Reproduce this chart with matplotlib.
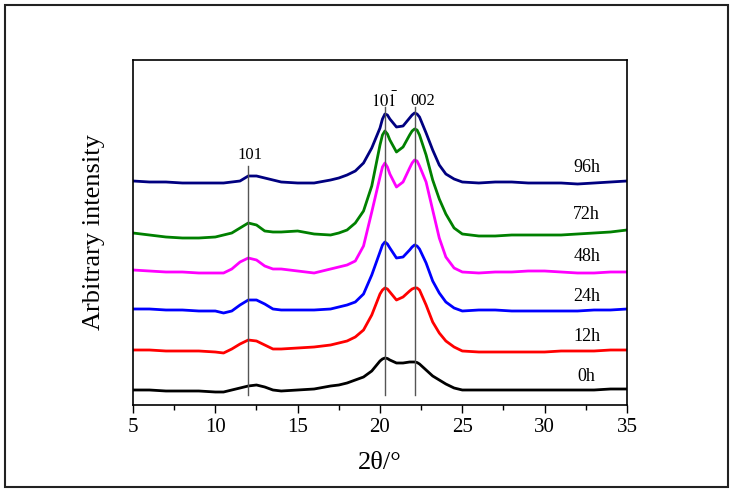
import matplotlib.pyplot as plt
from matplotlib.patches import Rectangle

plt.rcParams['font.family'] = ['Liberation Serif', 'DejaVu Serif']
plt.rcParams['mathtext.fontset'] = 'stix'

# 2theta positions (degrees) where the curves were read
two_theta = [5, 6, 7, 8, 9, 10, 10.5, 11, 11.5, 12, 12.5, 13, 13.5, 14, 15, 16, 17,
             17.5, 18, 18.5, 19, 19.5, 20, 20.15, 20.3, 20.45, 20.6, 21, 21.4, 21.8,
             21.95, 22.1, 22.25, 22.4, 22.8, 23.2, 23.6, 24, 24.5, 25, 26, 27, 28,
             29, 30, 31, 32, 33, 34, 35]

# stacked intensities (arbitrary units, offsets included)
i_0h = [26, 26, 25, 25, 25, 24, 24, 26, 28, 30, 31, 29, 26, 25, 26, 27, 30,
        31, 33, 36, 39, 45, 55, 57, 58, 57.5, 56, 53, 53, 54,
        54, 54, 53.5, 52, 46, 40, 36, 32, 28, 26, 26, 26, 26,
        26, 26, 26, 26, 26, 27, 27]
i_12h = [66, 66, 65, 65, 65, 64, 63, 67, 72, 76, 75, 71, 67, 67, 68, 69, 71,
         73, 75, 79, 86, 101, 122, 126, 128, 127, 124, 116, 119, 125,
         127, 128, 128, 126, 111, 94, 83, 75, 69, 65, 64, 64, 64,
         64, 64, 65, 65, 65, 66, 66]
i_24h = [107, 107, 106, 106, 105, 105, 103, 105, 111, 116, 116, 112, 107, 106, 106, 106, 107,
         109, 111, 114, 122, 141, 164, 171, 174, 172, 168, 158, 159, 166,
         169, 171, 170, 167, 153, 135, 123, 114, 108, 105, 106, 106, 105,
         105, 105, 105, 105, 106, 106, 107]
i_48h = [146, 145, 144, 144, 143, 143, 143, 147, 154, 158, 156, 150, 147, 147, 145, 143, 147,
         149, 151, 155, 170, 204, 239, 249, 253, 249, 242, 229, 234, 248,
         253, 256, 255, 250, 234, 206, 178, 159, 148, 144, 143, 144, 144,
         145, 145, 144, 143, 143, 144, 144]
i_72h = [183, 181, 179, 178, 178, 179, 181, 183, 188, 193, 191, 185, 184, 184, 185, 182, 181,
         183, 186, 193, 205, 230, 271, 281, 285, 282, 276, 264, 269, 281,
         285, 287, 286, 281, 261, 236, 217, 202, 188, 182, 180, 180, 181,
         181, 181, 181, 182, 183, 184, 186]
i_96h = [235, 234, 234, 233, 233, 233, 233, 234, 235, 240, 240, 238, 236, 234, 233, 233, 236,
         238, 241, 245, 253, 268, 288, 297, 302, 301, 297, 289, 290, 298,
         301, 303, 302, 299, 283, 266, 251, 242, 237, 234, 233, 234, 234,
         233, 233, 233, 232, 233, 234, 235]

series = [i_0h, i_12h, i_24h, i_48h, i_72h, i_96h]
names = ['0h', '12h', '24h', '48h', '72h', '96h']
colors = ['black', 'red', 'blue', 'magenta', 'green', 'navy']
name_y = [39, 79, 119, 159, 201, 248]

# reflection markers: position, top of line, label
peak_pos = [12.0, 20.3, 22.1]
peak_top = [250, 309, 309]
peak_text = ['101', r'$\mathrm{10\bar{1}}$', '002']
peak_text_x = [12.1, 20.3, 22.6]
peak_text_y = [261, 315, 315]

fig = plt.figure(figsize=(7.34, 4.93), dpi=100)
ax = fig.add_axes([0.1812, 0.1785, 0.673, 0.6998])

for y, c, n, ny in zip(series, colors, names, name_y):
    ax.plot(two_theta, y, color=c, lw=2)
    ax.text(32.55, ny, n, ha='center', va='center', fontsize=13)

for p, top, t, tx, ty in zip(peak_pos, peak_top, peak_text, peak_text_x, peak_text_y):
    ax.plot([p, p], [21, top], color='#555555', lw=1)
    ax.text(tx, ty, t, ha='center', va='center', fontsize=12)

ax.set_xlim(5, 35)
ax.set_ylim(11, 356)
ax.set_xticks([5, 10, 15, 20, 25, 30, 35])
ax.set_xticks([7.5, 12.5, 17.5, 22.5, 27.5, 32.5], minor=True)
ax.set_yticks([])
ax.tick_params(axis='x', which='major', length=6, width=1, labelsize=15, direction='out')
ax.tick_params(axis='x', which='minor', length=3.5, width=1, direction='out')
ax.set_xlabel('2θ/°', fontsize=19, labelpad=11)
ax.set_ylabel('Arbitrary intensity', fontsize=19)
ax.yaxis.set_label_coords(-0.057, 0.5)
for s in ax.spines.values():
    s.set_linewidth(1.2)

# frame around the whole figure
fig.patches.append(Rectangle((5 / 734, 1 - 487 / 493), 723 / 734, 482 / 493,
                             transform=fig.transFigure, fill=False,
                             edgecolor='#222222', lw=1.5))

fig.savefig('out.png', dpi=100)
